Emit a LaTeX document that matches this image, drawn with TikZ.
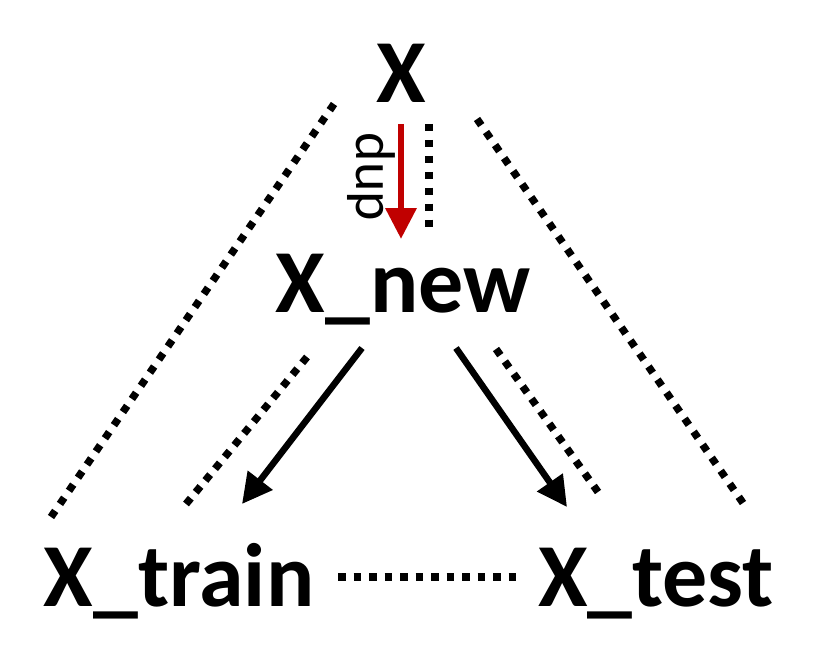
\documentclass[tikz,border=0pt]{standalone}
\usepackage{fontspec}
\setmainfont{Carlito}
\usetikzlibrary{arrows.meta}
\definecolor{darkred}{HTML}{C00000}
\begin{document}
\begin{tikzpicture}[x=1pt,y=-1pt,
  lbl/.style={font=\fontsize{90}{100}\selectfont\bfseries, anchor=base, inner sep=0pt},
  dotline/.style={line width=7.5pt, dash pattern=on 7.5pt off #1},
  dotline/.default=8.3pt,
  blackarrow/.style={line width=6.5pt, -{Triangle[length=30pt,width=30pt]}},
  redarrow/.style={line width=6.5pt, darkred, -{Triangle[length=31pt,width=30pt]}},
  rotlbl/.style={font=\fontsize{56}{60}\selectfont, rotate=-90, inner sep=0pt}]
\useasboundingbox (0,0) rectangle (830,650);
\node[lbl] (x) at (401,103) {X};
\node[lbl] (xnew) at (403,312) {X\_new};
\node[lbl] (xtrain) at (179,606) {X\_train};
\node[lbl] (xtest) at (656,606) {X\_test};
% endpoints
\coordinate (r1) at (401,124);
\coordinate (r2) at (401,239);
\coordinate (v1) at (429,124);
\coordinate (v2) at (429,227);
\coordinate (lo1) at (334,104);
\coordinate (lo2) at (51,517);
\coordinate (ro1) at (477,119);
\coordinate (ro2) at (743,503);
\coordinate (li1) at (307,357);
\coordinate (li2) at (186,504);
\coordinate (ri1) at (496,349);
\coordinate (ri2) at (598,492);
\coordinate (la1) at (362,348);
\coordinate (la2) at (242,504);
\coordinate (ra1) at (456,348);
\coordinate (ra2) at (567,507);
\coordinate (h1) at (338,577);
\coordinate (h2) at (516,577);
% lines
\draw[redarrow] (r1) -- (r2);
\node[rotlbl] (dup) at (371,177) {dup};
\draw[dotline=8.42pt] (v1) -- (v2);
\draw[dotline=8.41pt] (lo1) -- (lo2);
\draw[dotline=8.35pt] (ro1) -- (ro2);
\draw[dotline=7.74pt] (li1) -- (li2);
\draw[dotline=7.79pt] (ri1) -- (ri2);
\draw[blackarrow] (la1) -- (la2);
\draw[blackarrow] (ra1) -- (ra2);
\draw[dotline=8.0pt] (h1) -- (h2);
\end{tikzpicture}
\end{document}
